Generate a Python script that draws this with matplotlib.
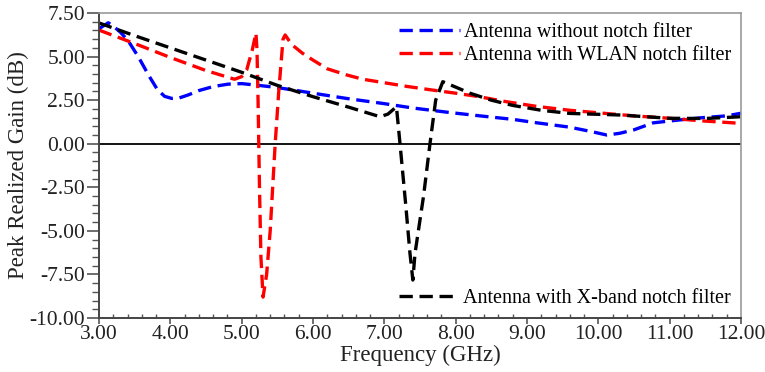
import matplotlib.pyplot as plt
from matplotlib.ticker import MultipleLocator, FormatStrFormatter

plt.rcParams['font.family'] = ['Liberation Serif', 'DejaVu Serif']

# antenna without notch filter
blue_f = [3.0, 3.13, 3.2, 3.3, 3.41, 3.55, 3.7, 3.82, 3.92, 4.02, 4.12, 4.25, 4.4, 4.6,
          4.81, 5.0, 5.19, 5.45, 5.7, 6.0, 6.47, 7.0, 7.4, 7.9, 8.34, 8.8, 9.14, 9.6,
          9.9, 10.12, 10.3, 10.5, 10.77, 11.1, 11.47, 11.8, 12.0]
blue_g = [6.6, 6.94, 6.75, 6.4, 5.9, 5.0, 3.9, 3.1, 2.72, 2.6, 2.62, 2.8, 3.05, 3.28,
          3.42, 3.45, 3.37, 3.25, 3.1, 2.9, 2.6, 2.3, 2.05, 1.8, 1.6, 1.4, 1.2, 0.95,
          0.7, 0.5, 0.6, 0.8, 1.2, 1.35, 1.5, 1.6, 1.75]

# antenna with WLAN notch filter
red_f = [3.0, 3.5, 4.0, 4.5, 4.9, 5.0, 5.07, 5.15, 5.2, 5.215, 5.23, 5.25, 5.27, 5.3,
         5.35, 5.4, 5.47, 5.52, 5.58, 5.61, 5.7, 5.85, 6.0, 6.2, 6.47, 6.7, 7.0, 7.3,
         7.64, 8.0, 8.3, 8.7, 9.14, 9.6, 10.07, 10.5, 11.0, 11.5, 12.0]
red_g = [6.52, 5.75, 4.95, 4.2, 3.7, 3.85, 4.23, 5.4, 6.35, 5.4, 2.5, -2.5, -6.5, -8.8,
         -7.5, -5.0, 0.0, 3.0, 6.0, 6.24, 5.7, 5.2, 4.8, 4.3, 3.95, 3.7, 3.5, 3.3,
         3.1, 2.9, 2.72, 2.42, 2.14, 1.92, 1.75, 1.6, 1.46, 1.3, 1.17]

# antenna with X-band notch filter
black_f = [3.0, 3.5, 4.0, 4.5, 5.0, 5.5, 6.0, 6.5, 6.94, 7.05, 7.17, 7.22, 7.3, 7.36,
           7.4, 7.43, 7.55, 7.64, 7.72, 7.82, 8.0, 8.2, 8.5, 8.8, 9.2, 9.6, 10.3, 11.0,
           11.5, 12.0]
black_g = [6.93, 6.2, 5.5, 4.8, 4.1, 3.35, 2.7, 2.1, 1.55, 1.7, 2.12, 0.0, -3.5, -6.3,
           -7.82, -6.3, -3.0, 0.0, 2.5, 3.56, 3.25, 2.9, 2.5, 2.2, 1.92, 1.74, 1.65, 1.46,
           1.45, 1.55]

fig = plt.figure(figsize=(7.65, 3.72), dpi=100)
ax = fig.add_axes([0.1294, 0.145, 0.8392, 0.820])

dash = (0, (4, 2))
l1, = ax.plot(blue_f, blue_g, color='#0000ff', lw=2.4, linestyle=dash, label='Antenna without notch filter')
l2, = ax.plot(red_f, red_g, color='#ff0000', lw=2.4, linestyle=dash, label='Antenna with WLAN notch filter')
l3, = ax.plot(black_f, black_g, color='black', lw=2.4, linestyle=dash, label='Antenna with X-band notch filter')
ax.axhline(0, color='black', lw=1.3, zorder=1)

ax.set_xlim(3, 12)
ax.set_ylim(-10, 7.5)
ax.xaxis.set_major_locator(MultipleLocator(1))
ax.xaxis.set_minor_locator(MultipleLocator(0.2))
ax.yaxis.set_major_locator(MultipleLocator(2.5))
ax.yaxis.set_minor_locator(MultipleLocator(0.5))
ax.xaxis.set_major_formatter(FormatStrFormatter('%.2f'))
ax.yaxis.set_major_formatter(FormatStrFormatter('%.2f'))

ax.tick_params(axis='both', which='major', labelsize=15.5, length=9, width=1.2,
               color='#555555', labelcolor='#222222', pad=1)
ax.tick_params(axis='x', which='major', length=4)
ax.tick_params(axis='y', which='minor', length=5, width=1, color='#555555')
ax.tick_params(axis='x', which='minor', direction='in', length=3, width=1, color='#555555')
for side in ['top', 'right']:
    ax.spines[side].set_color('#999999')
    ax.spines[side].set_linewidth(1.2)
for side in ['left', 'bottom']:
    ax.spines[side].set_color('#444444')
    ax.spines[side].set_linewidth(1.4)

ax.set_xlabel('Frequency (GHz)', fontsize=16.5, color='#222222', labelpad=0.5)
ax.set_ylabel('Peak Realized Gain (dB)', fontsize=16.5, color='#222222', labelpad=0)

leg1 = ax.legend(handles=[l1, l2], loc='upper right', frameon=False, fontsize=14.5,
                 handlelength=3.0, handletextpad=0.2, borderaxespad=0.1, labelspacing=0.2,
                 bbox_to_anchor=(1.0, 1.0))
ax.add_artist(leg1)
ax.legend(handles=[l3], loc='lower right', frameon=False, fontsize=14.5,
          handlelength=3.0, handletextpad=0.2, borderaxespad=0.1,
          bbox_to_anchor=(1.0, 0.0))

fig.savefig('out.png', dpi=100)
